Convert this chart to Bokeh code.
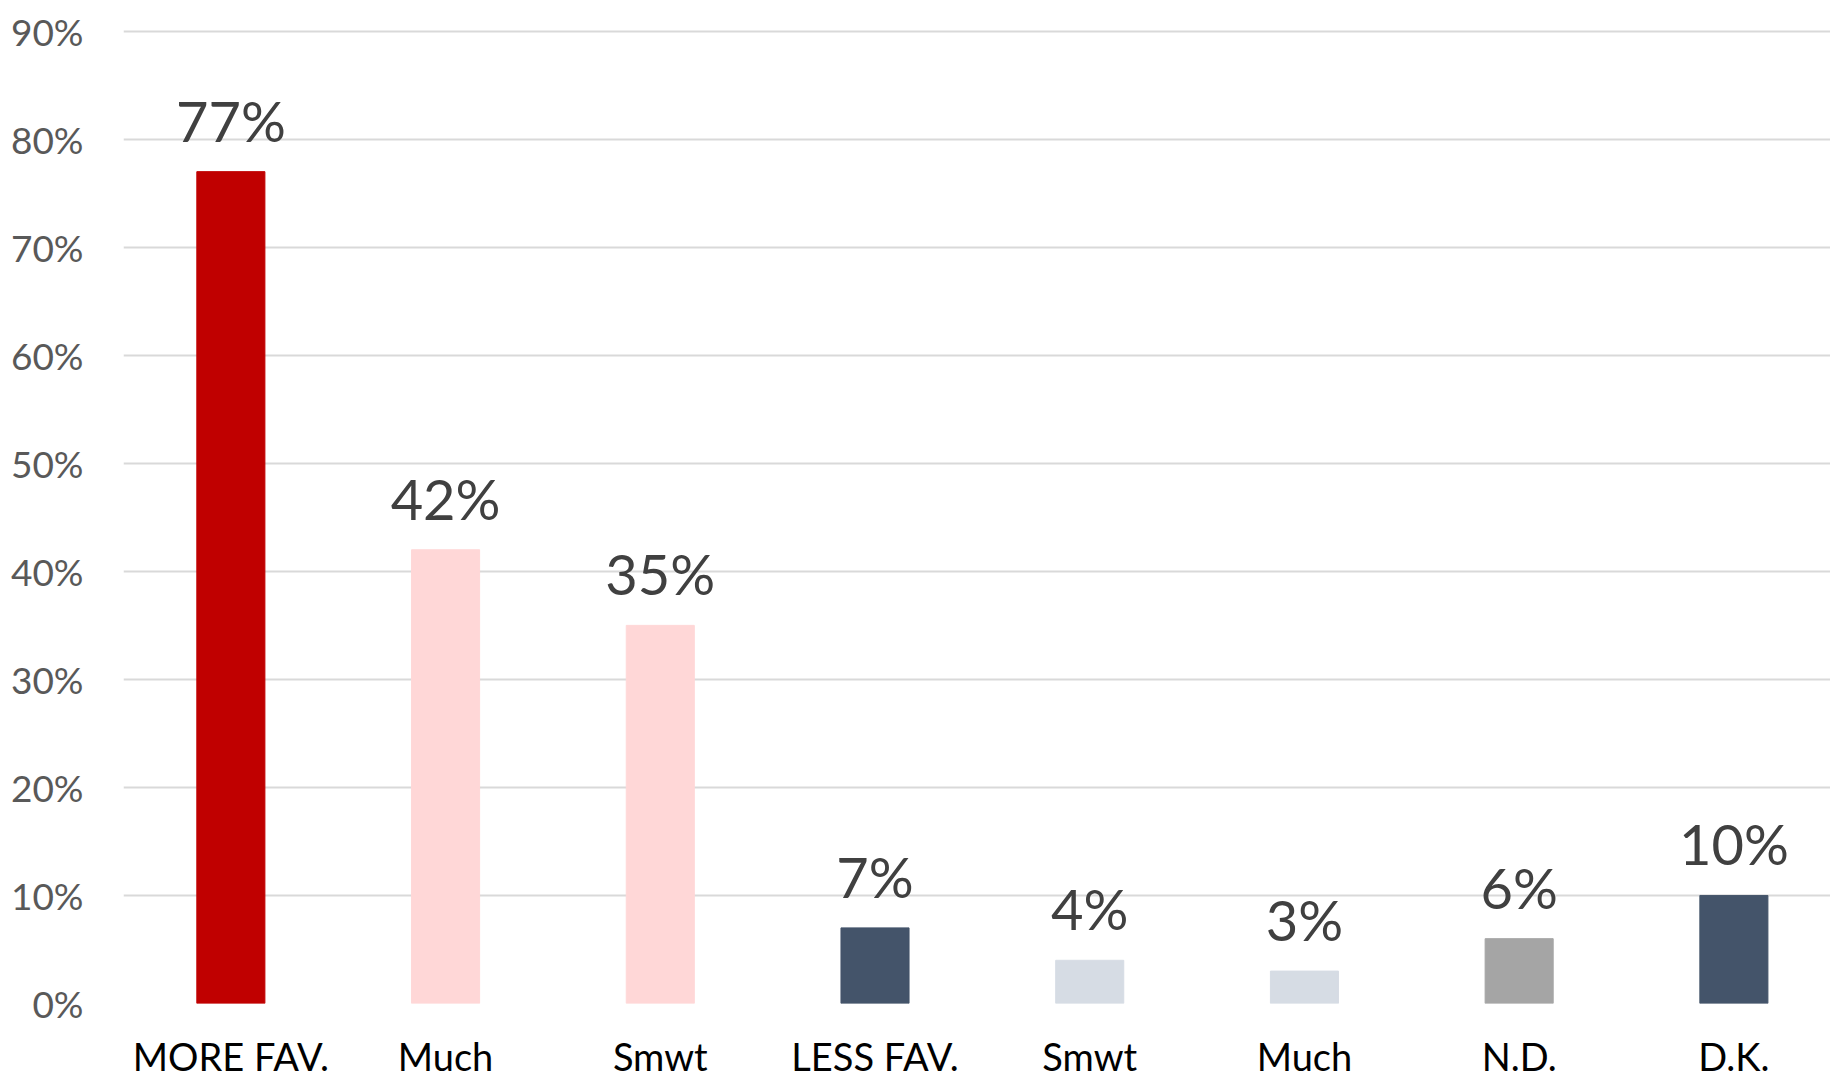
from bokeh.plotting import figure
from bokeh.models import ColumnDataSource, FixedTicker, LabelSet, Range1d
from bokeh.core.properties import value
from bokeh.embed import file_html
from bokeh.resources import INLINE

categories = ["MORE FAV.", "Much", "Smwt", "LESS FAV.", "Smwt", "Much", "N.D.", "D.K."]
values = [77, 42, 35, 7, 4, 3, 6, 10]
colors = ["#C00000", "#FFD7D7", "#FFD7D7", "#44546A", "#D6DCE4", "#D6DCE4", "#A5A5A5", "#44546A"]
y_ticks = [0, 10, 20, 30, 40, 50, 60, 70, 80, 90]
y_tick_labels = [f"{t}%" for t in y_ticks]

FONT = "Lato"

xs = list(range(1, len(categories) + 1))
src = ColumnDataSource(dict(x=xs, top=values, color=colors, label=[f"{v}%" for v in values]))

p = figure(width=1830, height=1081, output_backend="svg", toolbar_location=None,
           x_range=Range1d(0.5, len(categories) + 0.45), y_range=Range1d(0, 90.25),
           min_border_left=123, min_border_right=0, min_border_top=28, min_border_bottom=78)
p.outline_line_color = None
p.background_fill_color = "white"
p.border_fill_color = "white"

p.vbar(x="x", top="top", bottom=0, width=0.317, color="color", source=src)

labels = LabelSet(x="x", y="top", text="label", source=src, y_offset=30,
                  text_align="center", text_baseline="alphabetic",
                  text_font=value(FONT), text_font_size="56px", text_color="#404040")
p.add_layout(labels)

# y axis
p.yaxis.ticker = FixedTicker(ticks=y_ticks)
p.yaxis.major_label_overrides = {t: l for t, l in zip(y_ticks, y_tick_labels)}
p.yaxis.axis_line_color = None
p.yaxis.major_tick_line_color = None
p.yaxis.minor_tick_line_color = None
p.yaxis.major_label_standoff = 34
p.yaxis.major_label_text_font = FONT
p.yaxis.major_label_text_font_size = "37px"
p.yaxis.major_label_text_color = "#595959"

# x axis
p.xaxis.ticker = FixedTicker(ticks=xs)
p.xaxis.major_label_overrides = {x: c for x, c in zip(xs, categories)}
p.xaxis.axis_line_color = None
p.xaxis.major_tick_line_color = None
p.xaxis.minor_tick_line_color = None
p.xaxis.major_label_standoff = 23
p.xaxis.major_label_text_font = FONT
p.xaxis.major_label_text_font_size = "38px"
p.xaxis.major_label_text_color = "#000000"

p.xgrid.grid_line_color = None
p.ygrid.ticker = FixedTicker(ticks=y_ticks)
p.ygrid.grid_line_color = "#D9D9D9"
p.ygrid.grid_line_width = 2

open("out.html", "w").write(file_html(p, INLINE))
